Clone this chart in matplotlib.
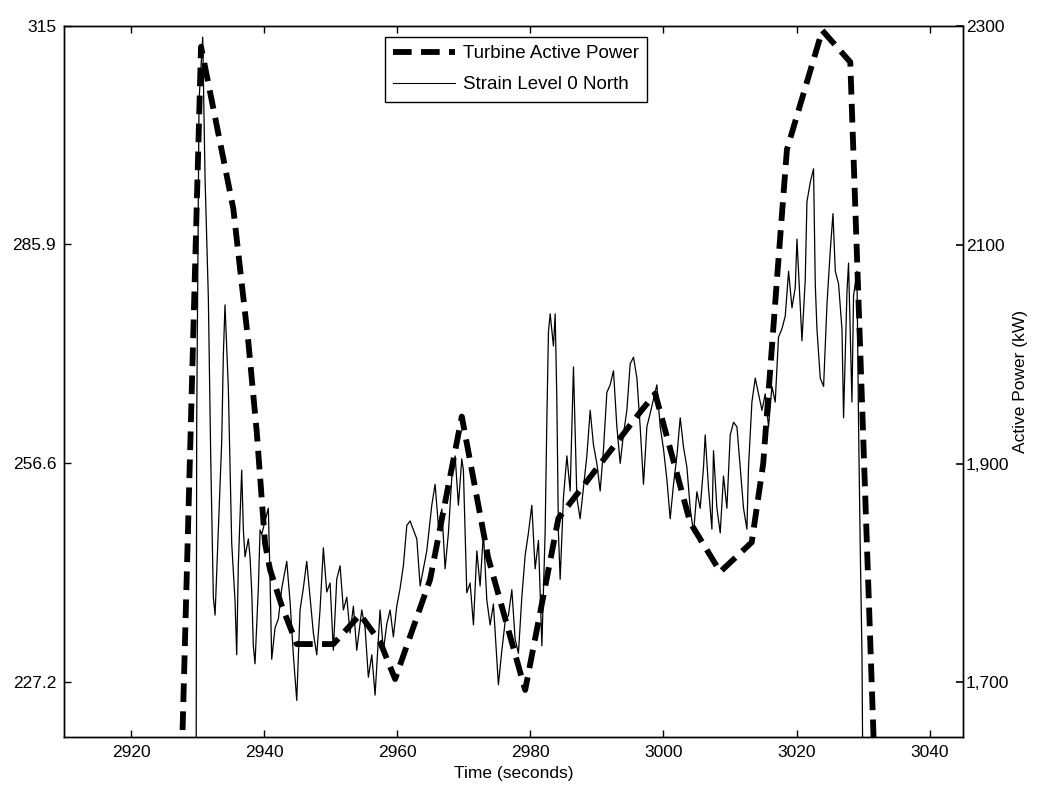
###-----------Imports--------------------------
import matplotlib
matplotlib.use('Agg')
import matplotlib.pyplot as plt
from matplotlib.lines import Line2D
####------------------------------------------

plt.rcParams['font.family'] = ['Liberation Sans', 'DejaVu Sans']

##-------------Data-----------------------------------------------------------------
## turbine active power (right axis, kW)
power_time = [2925.5, 2930.52, 2935.37, 2937.63, 2938.89, 2940.14, 2940.89, 2942.65,
              2944.90, 2950.40, 2954.42, 2957.42, 2959.68, 2964.94, 2969.70, 2973.66,
              2979.22, 2984.22, 2996.50, 2998.76, 3004.02, 3008.53, 3013.26, 3014.99,
              3017.05, 3018.55, 3023.86, 3028.07, 3033.07]
power_kw = [1150, 2281, 2133, 2011, 1929, 1827, 1803, 1770,
            1735, 1735, 1762, 1737, 1703, 1794, 1943, 1814,
            1693, 1850, 1947, 1964, 1846, 1801, 1828, 1900,
            2068, 2187, 2296, 2267, 1385]

## strain level 0 north (left axis)
strain_time = [2929.0, 2929.78, 2929.87, 2930.22, 2930.77, 2931.12, 2931.62, 2931.98, 2932.37, 2932.63,
               2933.12, 2933.63, 2933.87, 2934.12, 2934.62, 2934.88, 2935.13, 2935.63, 2935.88, 2936.12,
               2936.63, 2936.88, 2937.13, 2937.63, 2937.88, 2938.14, 2938.38, 2938.63, 2939.13, 2939.39,
               2939.64, 2940.14, 2940.63, 2940.89, 2941.14, 2941.64, 2942.14, 2942.65, 2943.40, 2943.89,
               2944.39, 2944.90, 2945.40, 2945.89, 2946.40, 2946.90, 2947.40, 2947.91, 2948.40, 2948.90,
               2949.41, 2949.91, 2950.40, 2950.91, 2951.41, 2951.91, 2952.42, 2952.91, 2953.41, 2953.92,
               2954.67, 2955.17, 2955.66, 2956.18, 2956.67, 2957.42, 2957.92, 2958.43, 2958.93, 2959.42,
               2959.93, 2960.43, 2960.92, 2961.44, 2961.93, 2962.43, 2962.94, 2963.44, 2963.93, 2964.44,
               2965.19, 2965.69, 2966.19, 2966.70, 2967.19, 2967.69, 2968.20, 2968.70, 2969.19, 2969.70,
               2969.94, 2970.45, 2970.95, 2971.45, 2971.96, 2972.45, 2972.95, 2973.46, 2973.96, 2974.45,
               2975.20, 2975.72, 2976.21, 2976.71, 2977.22, 2977.71, 2978.21, 2978.72, 2979.22, 2979.71,
               2980.22, 2980.72, 2981.22, 2981.73, 2982.22, 2982.48, 2982.72, 2982.98, 2983.47, 2983.73,
               2983.98, 2984.22, 2984.48, 2984.97, 2985.49, 2985.98, 2986.48, 2986.99, 2987.48, 2987.98,
               2988.49, 2988.99, 2989.48, 2989.99, 2990.49, 2990.99, 2991.50, 2991.99, 2992.49, 2993.00,
               2993.50, 2993.99, 2994.50, 2995.00, 2995.50, 2996.01, 2996.50, 2997.00, 2997.51, 2998.01,
               2998.50, 2999.01, 2999.51, 3000.01, 3000.52, 3001.01, 3001.51, 3002.02, 3002.52, 3003.01,
               3003.52, 3004.02, 3004.52, 3005.02, 3005.52, 3006.02, 3006.27, 3006.77, 3007.28, 3007.52,
               3008.03, 3008.53, 3009.02, 3009.53, 3010.03, 3010.53, 3011.04, 3011.53, 3012.03, 3012.54,
               3012.78, 3013.29, 3013.79, 3014.28, 3014.80, 3015.29, 3015.79, 3016.30, 3016.79, 3017.29,
               3017.80, 3018.30, 3018.80, 3019.31, 3019.80, 3020.06, 3020.30, 3020.81, 3021.30, 3021.56,
               3022.06, 3022.55, 3022.81, 3023.06, 3023.56, 3024.06, 3024.57, 3025.06, 3025.47, 3025.82,
               3026.31, 3026.82, 3027.06, 3027.57, 3027.81, 3028.32, 3028.56, 3029.07, 3029.31, 3029.57,
               3029.83, 3029.98, 3030.5]
strain_val = [200.0, 211.5, 261.9, 305.0, 313.5, 294.8, 278.6, 257.1, 238.6, 236.2,
              247.6, 259.5, 270.9, 277.7, 266.7, 255.9, 245.8, 238.1, 230.9, 242.8,
              255.6, 247.6, 244.0, 246.4, 244.0, 239.3, 232.1, 229.7, 239.8, 247.6,
              247.0, 248.8, 250.5, 241.0, 230.3, 234.5, 235.7, 239.8, 243.4, 238.1,
              230.9, 224.8, 236.9, 239.8, 243.4, 238.6, 233.8, 230.9, 236.9, 245.2,
              239.3, 240.5, 231.5, 241.0, 242.8, 236.9, 238.6, 233.8, 237.4, 231.5,
              236.9, 234.5, 227.9, 230.9, 225.5, 236.9, 231.5, 235.0, 236.9, 233.3,
              237.4, 239.8, 242.8, 248.2, 248.8, 247.6, 246.4, 240.1, 242.4, 244.8,
              250.9, 253.7, 248.1, 250.4, 242.4, 247.2, 254.7, 257.5, 250.9, 257.1,
              255.6, 239.2, 240.5, 234.9, 244.8, 240.1, 247.2, 238.2, 234.9, 237.7,
              226.9, 231.5, 235.3, 236.2, 239.6, 233.0, 231.1, 238.6, 244.2, 247.2,
              250.9, 242.4, 246.2, 232.1, 247.2, 262.3, 274.1, 276.5, 272.2, 276.5,
              265.1, 247.2, 241.0, 251.9, 257.5, 252.8, 269.4, 251.9, 249.1, 253.3,
              257.5, 263.6, 259.0, 256.5, 252.8, 258.4, 266.0, 267.0, 268.9, 261.4,
              256.5, 260.4, 263.6, 269.8, 270.7, 267.9, 261.4, 253.7, 261.4, 263.2,
              265.1, 267.0, 261.4, 258.4, 254.3, 249.1, 253.7, 257.5, 262.6, 258.7,
              256.0, 250.5, 247.2, 252.7, 250.5, 256.0, 260.3, 253.2, 247.7, 258.2,
              250.5, 247.2, 254.8, 250.5, 260.3, 262.0, 261.4, 256.0, 250.5, 247.7,
              256.0, 264.7, 267.9, 265.8, 263.6, 265.8, 261.4, 266.8, 264.7, 273.4,
              274.5, 276.2, 282.2, 277.3, 280.0, 286.5, 282.2, 272.9, 281.0, 291.5,
              294.1, 295.9, 280.5, 274.5, 267.9, 266.8, 277.8, 284.9, 289.9, 282.2,
              280.5, 274.5, 262.6, 279.4, 283.3, 264.7, 278.9, 282.2, 262.0, 245.0,
              230.9, 211.5, 200.0]

x_ticks = [2920, 2940, 2960, 2980, 3000, 3020, 3040]
left_ticks = [227.2, 256.6, 285.9, 315]
left_labels = ['227.2', '256.6', '285.9', '315']
right_ticks = [1700, 1900, 2100, 2300]
right_labels = ['1,700', '1,900', '2100', '2300']
###------------------------------------------------------------------------------------------


###---------------Plotting------------------------------------------------------
fig = plt.figure(figsize=(10.38, 7.85), dpi=100)
ax = fig.add_axes([0.0621, 0.0611, 0.8656, 0.9058])
ax2 = ax.twinx()

ax.plot(strain_time, strain_val, color='black', linewidth=0.9)
ax2.plot(power_time, power_kw, color='black', linewidth=4.2, dashes=(3.2, 1.6))

ax.set_xlim(2910, 3045)
ax.set_ylim(219.9, 315)
ax2.set_ylim(1650, 2300)

ax.set_xticks(x_ticks)
ax.set_yticks(left_ticks)
ax.set_yticklabels(left_labels)
ax2.set_yticks(right_ticks)
ax2.set_yticklabels(right_labels)

ax.tick_params(direction='in', length=5, width=1, top=True, labelsize=12.5, pad=6)
ax2.tick_params(direction='in', length=5, width=1.2, labelsize=12.5, pad=2)

ax.set_xlabel('Time (seconds)', fontsize=12.5, labelpad=4)
ax2.set_ylabel('Active Power (kW)', fontsize=12.5, labelpad=3)

for a in (ax, ax2):
    for s in a.spines.values():
        s.set_linewidth(1.0)
        s.set_color('black')

## legend
handles = [Line2D([], [], color='black', linewidth=4.2, dashes=(3.2, 1.6)),
           Line2D([], [], color='black', linewidth=0.8)]
leg = ax2.legend(handles, ['Turbine Active Power', 'Strain Level 0 North'],
                 loc='upper center', bbox_to_anchor=(0.5025, 0.993),
                 fontsize=13.5, handlelength=3.3, handletextpad=0.4,
                 fancybox=False, framealpha=1, edgecolor='black',
                 borderpad=0.45, labelspacing=0.75, borderaxespad=0.3)
leg.get_frame().set_linewidth(1.0)

fig.savefig('out.png', dpi=100)
##-------------------------------------------------------------------------------
